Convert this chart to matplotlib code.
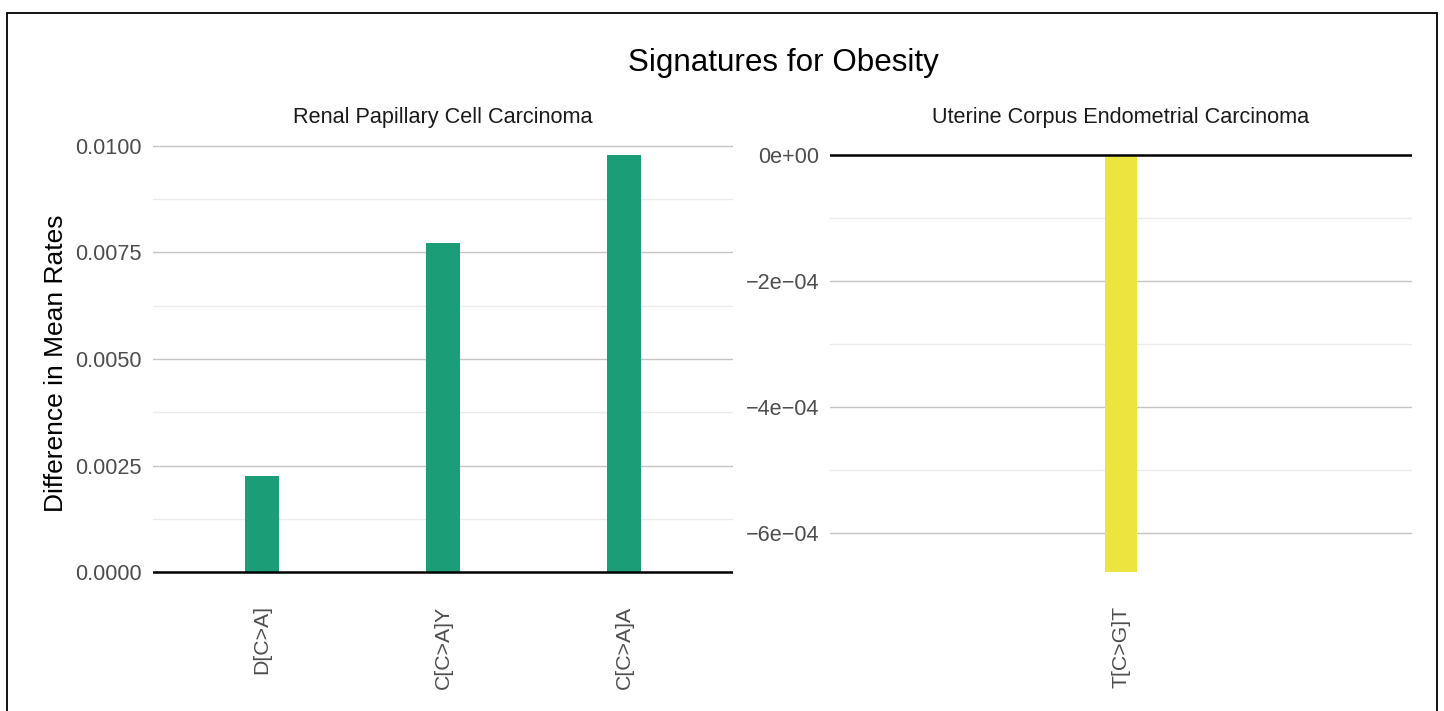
import matplotlib
matplotlib.use("Agg")
import matplotlib.pyplot as plt
from matplotlib.patches import Rectangle
from matplotlib.ticker import FixedLocator

plt.rcParams['font.family'] = ['Liberation Sans', 'DejaVu Sans']

# Renal papillary cell carcinoma panel
renal_labels = ["D[C>A]", "C[C>A]Y", "C[C>A]A"]
renal_values = [0.002254, 0.007723, 0.009789]

# Uterine corpus endometrial carcinoma panel
uterine_labels = ["T[C>G]T"]
uterine_values = [-0.000662]

title = "Signatures for Obesity"
panel_titles = ["Renal Papillary Cell Carcinoma", "Uterine Corpus Endometrial Carcinoma"]
ylabel = "Difference in Mean Rates"

renal_ticks = [0.0, 0.0025, 0.005, 0.0075, 0.01]
renal_ticklabels = ["0.0000", "0.0025", "0.0050", "0.0075", "0.0100"]
uterine_ticks = [0.0, -0.0002, -0.0004, -0.0006]
uterine_ticklabels = ["0e+00", "\u22122e\u221204", "\u22124e\u221204", "\u22126e\u221204"]

W, H = 1444, 711
fig = plt.figure(figsize=(W / 100, H / 100), dpi=100)

def box(x0, y0, x1, y1):
    return [x0 / W, 1 - y1 / H, (x1 - x0) / W, (y1 - y0) / H]

ax1 = fig.add_axes(box(153, 134, 733, 593))
ax2 = fig.add_axes(box(830, 134, 1412, 593))

def style(ax, ticks, ticklabels, minor):
    for s in ax.spines.values():
        s.set_visible(False)
    ax.set_yticks(ticks)
    ax.set_yticklabels(ticklabels)
    ax.yaxis.set_minor_locator(FixedLocator(minor))
    ax.grid(axis='y', which='major', color='#c4c4c4', linewidth=1.0)
    ax.grid(axis='y', which='minor', color='#ebebeb', linewidth=1.0)
    ax.grid(axis='x', visible=False)
    ax.set_axisbelow(True)
    ax.tick_params(axis='y', which='both', length=0, labelsize=15.6, labelcolor='#4d4d4d', pad=8)
    ax.tick_params(axis='x', length=0, labelsize=15.3, labelcolor='#4d4d4d', pad=9, labelrotation=90)

def expand(lo, hi):
    pad = (hi - lo) * 0.05
    return lo - pad, hi + pad

# left panel
x1 = list(range(len(renal_labels)))
ax1.bar(x1, renal_values, width=0.19, color='#1b9e77', zorder=2)
ax1.axhline(0, color='black', linewidth=1.8, zorder=3)
ax1.set_xticks(x1)
ax1.set_xticklabels(renal_labels)
ax1.set_xlim(-0.6, len(renal_labels) - 0.4)
ax1.set_ylim(*expand(min(0, min(renal_values)), max(0, max(renal_values))))
style(ax1, renal_ticks, renal_ticklabels, [0.00125, 0.00375, 0.00625, 0.00875])
ax1.set_ylabel(ylabel, fontsize=19, color='black', labelpad=5)
ax1.set_title(panel_titles[0], fontsize=15.6, color='#1a1a1a', pad=8)

# right panel
x2 = list(range(len(uterine_labels)))
ax2.bar(x2, uterine_values, width=0.064, color='#ece540', zorder=2)
ax2.axhline(0, color='black', linewidth=1.8, zorder=3)
ax2.set_xticks(x2)
ax2.set_xticklabels(uterine_labels)
ax2.set_xlim(-0.6, len(uterine_labels) - 0.4)
ax2.set_ylim(*expand(min(0, min(uterine_values)), max(0, max(uterine_values))))
style(ax2, uterine_ticks, uterine_ticklabels, [-0.0001, -0.0003, -0.0005])
ax2.set_title(panel_titles[1], fontsize=15.6, color='#1a1a1a', pad=8)

fig.text(783 / W, 1 - 63 / H, title, ha='center', va='center', fontsize=22.6)

# outer frame
fig.patches.append(Rectangle((7 / W, -0.02), (1437 - 7) / W, 1 - 13 / H + 0.02,
                             transform=fig.transFigure, fill=False,
                             edgecolor='black', linewidth=1.3))

fig.savefig("out.png", dpi=100)
